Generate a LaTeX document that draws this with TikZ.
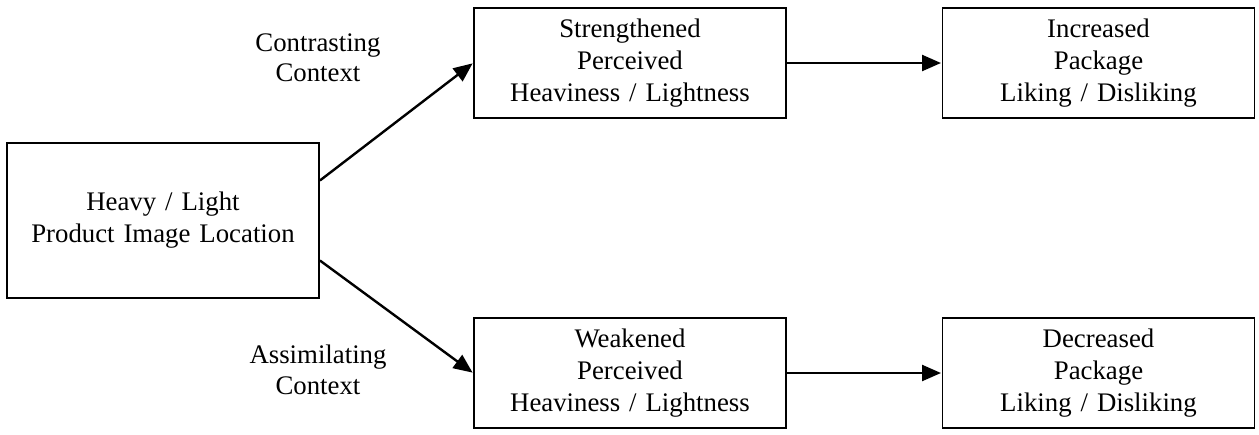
\documentclass[tikz,border=0pt]{standalone}
\usepackage{fontspec}
\setmainfont{Liberation Serif}
\usetikzlibrary{arrows.meta}
\begin{document}
\begin{tikzpicture}[x=0.5pt,y=-0.5pt,
  box/.style={draw=black,line width=0.9pt,align=center,inner sep=0pt,
    font=\fontsize{13.4}{16}\selectfont,text width=150pt},
  bigbox/.style={box,minimum width=156pt,minimum height=77.5pt},
  smallbox/.style={box,minimum width=156pt,minimum height=55pt},
  lbl/.style={align=center,font=\fontsize{13.4}{15.2}\selectfont},
  conn/.style={line width=1.2pt,-{Triangle[length=9.5pt,width=8pt]},shorten >=0.3pt}]
\useasboundingbox (0,0) rectangle (1259,434);
\node[bigbox] (L) at (163,220.5) {Heavy / Light\\Product Image Location};
\node[smallbox] (TM) at (630,63) {Strengthened\\Perceived\\Heaviness / Lightness};
\node[smallbox] (TR) at (1098.5,63) {Increased\\Package\\Liking / Disliking};
\node[smallbox] (BM) at (630,373) {Weakened\\Perceived\\Heaviness / Lightness};
\node[smallbox] (BR) at (1098.5,373) {Decreased\\Package\\Liking / Disliking};
\path (L.north east) -- (L.south east) coordinate[pos=0.245] (L1) coordinate[pos=0.755] (L2);
\node[lbl] (C) at (318,58) {Contrasting\\Context};
\node[lbl] (A) at (318,370) {Assimilating\\Context};
\draw[conn] (L1) -- (TM.west);
\draw[conn] (L2) -- (BM.west);
\draw[conn] (TM.east) -- (TR.west);
\draw[conn] (BM.east) -- (BR.west);
\end{tikzpicture}
\end{document}
